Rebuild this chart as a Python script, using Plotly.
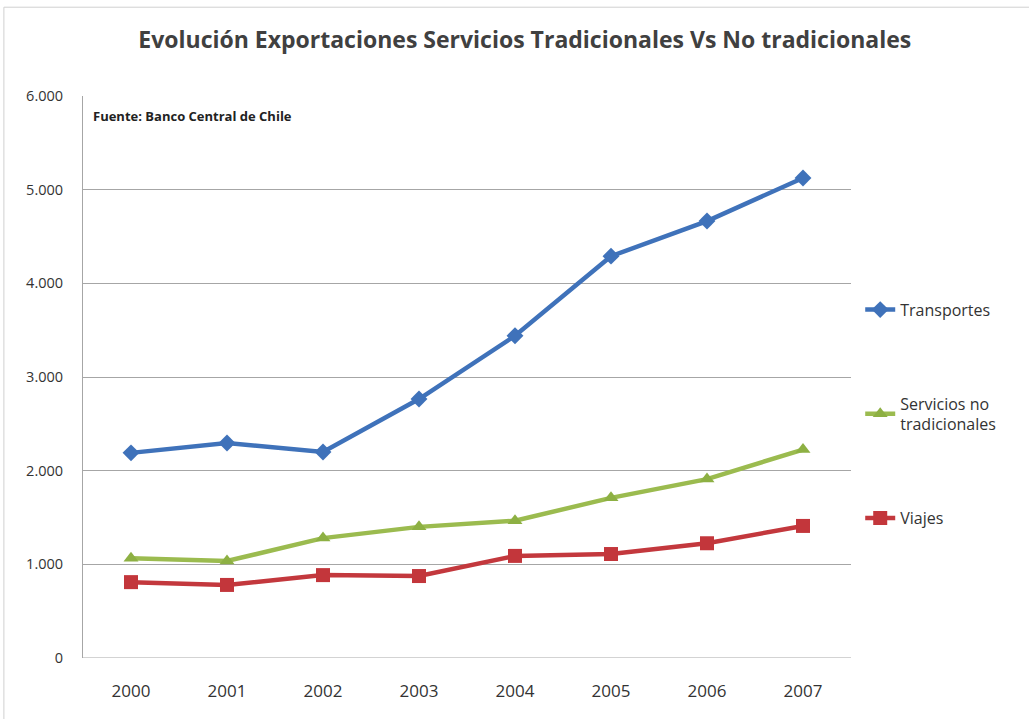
import plotly.graph_objects as go

years = ["2000", "2001", "2002", "2003", "2004", "2005", "2006", "2007"]
transportes = [2190, 2295, 2200, 2765, 3440, 4290, 4665, 5125]
servicios_no_trad = [1065, 1035, 1280, 1400, 1465, 1710, 1910, 2225]
viajes = [810, 780, 885, 875, 1090, 1110, 1225, 1410]
ytick_vals = [0, 1000, 2000, 3000, 4000, 5000, 6000]
ytick_text = ["0", "1.000", "2.000", "3.000", "4.000", "5.000", "6.000"]

fig = go.Figure()
fig.add_trace(go.Scatter(x=years, y=transportes, name="Transportes", mode="lines+markers",
                         line=dict(color="#3F72BA", width=4.5),
                         marker=dict(symbol="diamond", size=13, color="#3F72BA"),
                         legendgroup="a"))
fig.add_trace(go.Scatter(x=years, y=servicios_no_trad, name="Servicios no<br>tradicionales",
                         mode="lines+markers",
                         line=dict(color="#9BBB4F", width=4.5),
                         marker=dict(symbol="triangle-up", size=13, color="#8DB043"),
                         legendgroup="b"))
fig.add_trace(go.Scatter(x=years, y=viajes, name="Viajes", mode="lines+markers",
                         line=dict(color="#C3383D", width=4.5),
                         marker=dict(symbol="square", size=14, color="#C3363B"),
                         legendgroup="c"))

fig.update_layout(
    width=1029, height=719,
    margin=dict(l=83, r=178, t=96, b=61),
    paper_bgcolor="white", plot_bgcolor="white",
    font=dict(family="Open Sans, sans-serif", color="#333333"),
    title=dict(text="<b>Evolución Exportaciones Servicios Tradicionales Vs No tradicionales</b>",
               x=0.51, xanchor="center", y=0.945, yanchor="middle",
               font=dict(size=23, color="#404040", family="Open Sans, sans-serif")),
    xaxis=dict(type="category", range=[-0.5, 7.5], showgrid=False,
               showline=False, ticks="", tickfont=dict(size=17, color="#333333"),
               ticklabelstandoff=21),
    yaxis=dict(range=[0, 6000], tickvals=ytick_vals, ticktext=ytick_text,
               showgrid=True, gridcolor="#A6A6A6", gridwidth=1,
               showline=True, linecolor="#A6A6A6", linewidth=1, zeroline=False,
               ticks="", tickfont=dict(size=14.5, color="#333333"), ticklabelstandoff=16),
    legend=dict(x=1.012, y=0.65, xanchor="left", yanchor="top",
                font=dict(size=16, color="#333333"), tracegroupgap=70,
                bgcolor="rgba(0,0,0,0)"),
    showlegend=True,
)
fig.add_shape(type="line", xref="paper", yref="y", x0=0, x1=1, y0=0, y1=0,
              line=dict(color="#A6A6A6", width=1))
fig.add_annotation(text="<b>Fuente: Banco Central de Chile</b>", xref="paper", yref="paper",
                   x=0.011, y=0.965, xanchor="left", yanchor="middle", showarrow=False,
                   font=dict(size=13, color="#222222"))
fig.add_shape(type="rect", xref="paper", yref="paper", x0=-0.103, x1=1.25, y0=-0.12, y1=1.158,
              line=dict(color="#D0D0D0", width=1), layer="below")
fig.write_html("out.html")
